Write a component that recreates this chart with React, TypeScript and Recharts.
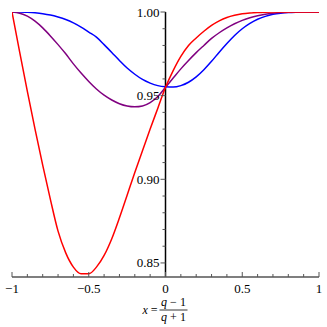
import React from 'react';
import { LineChart, Line, XAxis, YAxis, ReferenceLine } from 'recharts';

const xValues = [-1, -0.95, -0.9, -0.85, -0.8, -0.75, -0.7, -0.65, -0.6, -0.55, -0.5, -0.45, -0.4, -0.35, -0.3, -0.25, -0.2, -0.15, -0.1, -0.05, 0, 0.05, 0.1, 0.15, 0.2, 0.25, 0.3, 0.35, 0.4, 0.45, 0.5, 0.55, 0.6, 0.65, 0.7, 0.75, 0.8, 0.85, 0.9, 0.95, 1];

const redValues = [1.0, 0.976, 0.9525, 0.93, 0.9085, 0.888, 0.869, 0.856, 0.8475, 0.8435, 0.8435, 0.8475, 0.8545, 0.8645, 0.877, 0.8905, 0.904, 0.917, 0.93, 0.9425, 0.955, 0.965, 0.9735, 0.98, 0.9845, 0.9885, 0.992, 0.9947, 0.9967, 0.998, 0.9989, 0.9994, 0.9997, 0.9999, 1.0, 1.0, 1.0, 1.0, 1.0, 1.0, 1.0];

const purpleValues = [1.0, 0.9993, 0.9975, 0.9945, 0.9905, 0.9857, 0.9805, 0.975, 0.969, 0.9635, 0.9585, 0.954, 0.9503, 0.9474, 0.9452, 0.9438, 0.9433, 0.9438, 0.9458, 0.9495, 0.955, 0.9605, 0.966, 0.971, 0.9757, 0.98, 0.9842, 0.9876, 0.9905, 0.993, 0.995, 0.9966, 0.9978, 0.9987, 0.9993, 0.9997, 0.9999, 1.0, 1.0, 1.0, 1.0];

const blueValues = [1.0, 1.0, 0.9998, 0.9995, 0.999, 0.9982, 0.997, 0.9955, 0.9935, 0.991, 0.988, 0.985, 0.9805, 0.9758, 0.971, 0.9665, 0.9628, 0.9597, 0.9575, 0.956, 0.9553, 0.9551, 0.956, 0.958, 0.9612, 0.9655, 0.9705, 0.976, 0.9812, 0.986, 0.99, 0.9932, 0.9957, 0.9974, 0.9986, 0.9993, 0.9997, 0.9999, 1.0, 1.0, 1.0];

const xMajorTicks = [-1, -0.5, 0, 0.5, 1];
const xMajorLabels = ['\u22121', '\u22120.5', '0', '0.5', '1'];
const xAllTicks = [-1, -0.9, -0.8, -0.7, -0.6, -0.5, -0.4, -0.3, -0.2, -0.1, 0, 0.1, 0.2, 0.3, 0.4, 0.5, 0.6, 0.7, 0.8, 0.9, 1];

const yMajorTicks = [0.85, 0.9, 0.95, 1.0];
const yMajorLabels = ['0.85', '0.90', '0.95', '1.00'];
const yAllTicks = [0.85, 0.86, 0.87, 0.88, 0.89, 0.9, 0.91, 0.92, 0.93, 0.94, 0.95, 0.96, 0.97, 0.98, 0.99, 1.0];

const data = xValues.map((x, i) => ({
  x,
  red: redValues[i],
  purple: purpleValues[i],
  blue: blueValues[i],
}));

const W = 327;
const H = 327;
const YAXIS_W = 12;
const MARGIN = { top: 12, right: 8, bottom: 0, left: 0 };
const PLOT_W = W - YAXIS_W - MARGIN.left - MARGIN.right;
const HALF = PLOT_W / 2;
const FONT = '"Liberation Serif", "Times New Roman", Times, serif';

const findMajor = (v: number, list: number[]) => list.findIndex((t) => Math.abs(t - v) < 1e-9);

const XTick = (props: any) => {
  const { x, y, payload } = props;
  const idx = findMajor(payload.value, xMajorTicks);
  const len = idx >= 0 ? 5 : 3;
  return (
    <g>
      <line x1={x} x2={x} y1={y} y2={y - len} stroke="#555" strokeWidth={1} />
      {idx >= 0 && (
        <text x={x} y={y + 16} textAnchor="middle" style={{ fontFamily: FONT, fontSize: 13 }} fill="#000">
          {xMajorLabels[idx]}
        </text>
      )}
    </g>
  );
};

const YTick = (props: any) => {
  const { x, y, payload } = props;
  const cx = x + HALF;
  const idx = findMajor(payload.value, yMajorTicks);
  const len = idx >= 0 ? 5 : 3;
  return (
    <g>
      <line x1={cx} x2={cx - len} y1={y} y2={y} stroke="#555" strokeWidth={1} />
      {idx >= 0 && (
        <text x={cx - 6} y={y + 4.5} textAnchor="end" style={{ fontFamily: FONT, fontSize: 13 }} fill="#000">
          {yMajorLabels[idx]}
        </text>
      )}
    </g>
  );
};

const XLabel = (props: any) => {
  const vb = props.viewBox || { x: YAXIS_W, y: H - 50, width: PLOT_W, height: 50 };
  const cx = vb.x + vb.width / 2;
  const top = vb.y;
  const st = { fontFamily: FONT, fontSize: 12 };
  return (
    <g fill="#000">
      <text x={cx - 8} y={top + 37} textAnchor="end" style={st}>
        <tspan fontStyle="italic">x</tspan>
        <tspan> = </tspan>
      </text>
      <text x={cx + 8} y={top + 29} textAnchor="middle" style={st}>
        <tspan fontStyle="italic">q</tspan>
        <tspan>{' \u2212 1'}</tspan>
      </text>
      <line x1={cx - 6} x2={cx + 22} y1={top + 33} y2={top + 33} stroke="#000" strokeWidth={0.8} />
      <text x={cx + 8} y={top + 44} textAnchor="middle" style={st}>
        <tspan fontStyle="italic">q</tspan>
        <tspan>{' + 1'}</tspan>
      </text>
    </g>
  );
};

export default function App() {
  return (
    <div style={{ position: 'absolute', left: 0, top: 0, background: '#fff' }}>
      <LineChart width={W} height={H} data={data} margin={MARGIN}>
        <XAxis
          dataKey="x"
          type="number"
          domain={[-1, 1]}
          ticks={xAllTicks}
          interval={0}
          tick={<XTick />}
          tickLine={false}
          tickSize={0}
          tickMargin={0}
          axisLine={{ stroke: '#555', strokeWidth: 1.5 }}
          height={50}
          label={<XLabel />}
          allowDataOverflow
        />
        <YAxis
          type="number"
          domain={[0.8416, 1.0]}
          ticks={yAllTicks}
          interval={0}
          tick={<YTick />}
          tickLine={false}
          tickSize={0}
          tickMargin={0}
          axisLine={false}
          width={YAXIS_W}
          allowDataOverflow
        />
        <ReferenceLine x={0} stroke="#000" strokeWidth={1.5} />
        <Line type="monotone" dataKey="blue" stroke="#0000ff" strokeWidth={1.5} dot={false} isAnimationActive={false} />
        <Line type="monotone" dataKey="purple" stroke="#800080" strokeWidth={1.5} dot={false} isAnimationActive={false} />
        <Line type="monotone" dataKey="red" stroke="#ff0000" strokeWidth={1.5} dot={false} isAnimationActive={false} />
      </LineChart>
    </div>
  );
}
